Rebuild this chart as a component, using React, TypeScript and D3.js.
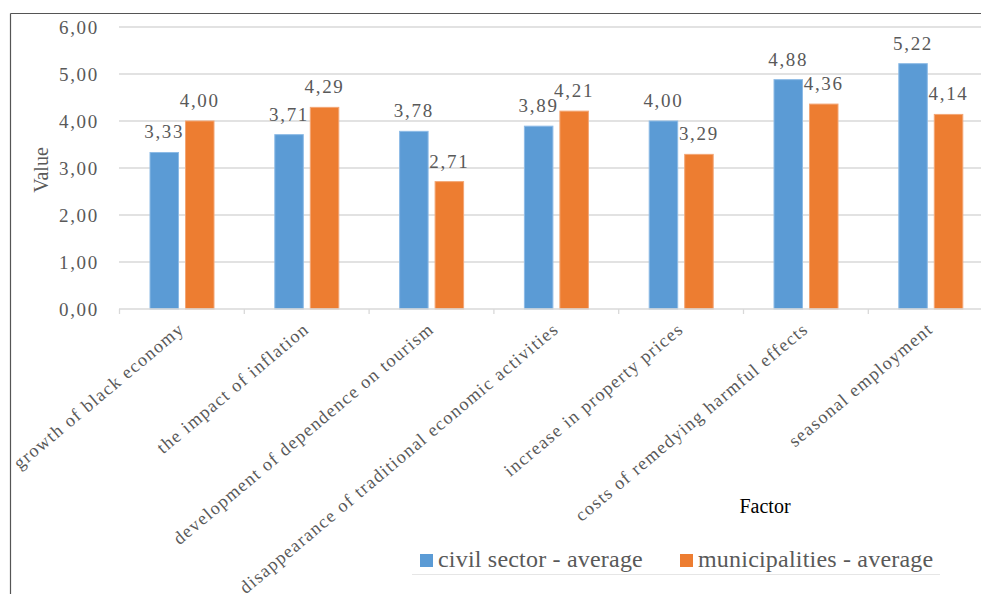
import React from "react";
import * as d3 from "d3";

const categories = [
  "growth of black economy",
  "the impact of inflation",
  "development of dependence on tourism",
  "disappearance of traditional economic activities",
  "increase in property prices",
  "costs of remedying harmful effects",
  "seasonal employment",
];
const seriesNames = ["civil sector - average", "municipalities - average"];
const civilSector = [3.33, 3.71, 3.78, 3.89, 4.0, 4.88, 5.22];
const municipalities = [4.0, 4.29, 2.71, 4.21, 3.29, 4.36, 4.14];
const yTicks = [0, 1, 2, 3, 4, 5, 6];
const colors = ["#5B9BD5", "#ED7D31"];

const W = 981;
const H = 594;
const FONT = "Liberation Serif, Times New Roman, serif";
const GRAY = "#595959";

export default function App() {
  const x = d3.scaleBand<string>().domain(categories).range([119, 119 + 7 * 124.8]).padding(0);
  const inner = d3
    .scaleBand<string>()
    .domain(seriesNames)
    .range([31, 95])
    .paddingInner(0.197)
    .paddingOuter(0);
  const y = d3.scaleLinear().domain([0, 6]).range([309, 27]);
  const fmt = (v: number) => v.toFixed(2).replace(".", ",");
  const series = [civilSector, municipalities];

  return (
    <svg
      width={W}
      height={H}
      style={{ position: "absolute", left: 0, top: 0, background: "#fff" }}
    >
      <rect x={0} y={0} width={W} height={H} fill="#fff" />
      {/* frame */}
      <line x1={10.5} y1={13.5} x2={W} y2={13.5} stroke="#555" strokeWidth={1.2} />
      <line x1={10.5} y1={13.5} x2={10.5} y2={H} stroke="#555" strokeWidth={1.2} />

      {/* grid */}
      {yTicks.slice(1).map((t) => (
        <line key={t} x1={119} x2={W} y1={y(t)} y2={y(t)} stroke="#d9d9d9" strokeWidth={1.3} />
      ))}
      {/* y tick labels */}
      {yTicks.map((t) => (
        <text
          key={t}
          x={99}
          y={y(t)}
          dy="0.35em"
          textAnchor="end"
          style={{ fontFamily: FONT }}
          fontSize={19}
          letterSpacing={1.7}
          fill={GRAY}
        >
          {fmt(t)}
        </text>
      ))}
      <text
        transform={`translate(48,170) rotate(-90)`}
        textAnchor="middle"
        style={{ fontFamily: FONT }}
        fontSize={20}
        fill={GRAY}
      >
        Value
      </text>

      {/* bars */}
      {categories.map((c, i) =>
        series.map((s, k) => {
          const bx = (x(c) as number) + (inner(seriesNames[k]) as number);
          const bw = inner.bandwidth();
          return (
            <g key={c + k}>
              <rect
                x={bx}
                y={y(s[i])}
                width={bw}
                height={y(0) - y(s[i])}
                fill={colors[k]}
                stroke={k === 0 ? "#8dbbe6" : "#f3a675"}
                strokeWidth={1}
              />
              <text
                x={bx + bw / 2}
                y={y(s[i]) - 14}
                textAnchor="middle"
                style={{ fontFamily: FONT }}
                fontSize={19}
                letterSpacing={1.7}
                fill={GRAY}
              >
                {fmt(s[i])}
              </text>
            </g>
          );
        })
      )}

      {/* x axis */}
      <line x1={119} x2={W} y1={y(0)} y2={y(0)} stroke="#d9d9d9" strokeWidth={1.3} />
      {categories.map((c) => (
        <line
          key={c}
          x1={(x(c) as number) + 0.5}
          x2={(x(c) as number) + 0.5}
          y1={y(0)}
          y2={y(0) + 5}
          stroke="#d9d9d9"
          strokeWidth={1.3}
        />
      ))}
      {categories.map((c) => {
        const cx = (x(c) as number) + x.bandwidth() / 2;
        return (
          <text
            key={c}
            transform={`translate(${cx + 4},${331}) rotate(-40)`}
            textAnchor="end"
            style={{ fontFamily: FONT }}
            fontSize={18.2}
            letterSpacing={1.3}
            fill={GRAY}
          >
            {c}
          </text>
        );
      })}
      <text x={765} y={513} textAnchor="middle" style={{ fontFamily: FONT }} fontSize={20} fill="#000">
        Factor
      </text>

      {/* legend */}
      <line x1={412} x2={940} y1={574.5} y2={574.5} stroke="#e6e6e6" strokeWidth={1} />
      {seriesNames.map((n, k) => {
        const lx = [420, 680][k];
        return (
          <g key={n}>
            <rect x={lx} y={554} width={13} height={13} fill={colors[k]} />
            <text
              x={lx + 18}
              y={567}
              style={{ fontFamily: FONT }}
              fontSize={24}
              letterSpacing={0.2}
              fill={GRAY}
            >
              {n}
            </text>
          </g>
        );
      })}
    </svg>
  );
}
